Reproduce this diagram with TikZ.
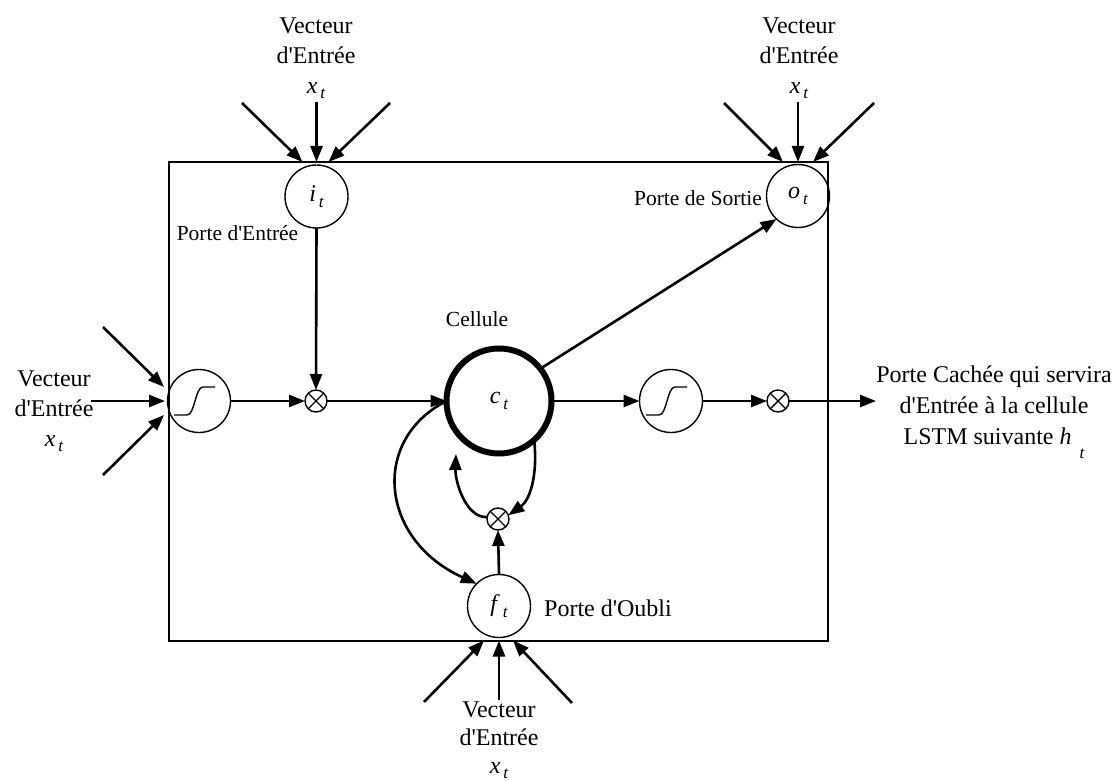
\documentclass[tikz,border=0pt]{standalone}
\usepackage{fontspec}
\setmainfont{Liberation Serif}
% family without TeX ligatures, so that ' stays a straight apostrophe
\newfontfamily\tnr{Liberation Serif}
\usetikzlibrary{arrows.meta}

% variable with a lowered italic subscript
\newcommand\vsym[2]{\textit{#1}\kern1.5pt\raisebox{-0.5ex}{\fontsize{8.5}{8.5}\selectfont\itshape #2}}
% sigmoid glyph drawn inside a gate
\newcommand\sigmoid[1]{\draw[line width=0.7pt] ([shift={(-25,14)}]#1.center) -- ++(13,0) .. controls +(8,0) and +(-8,0) .. ++(16,-28) -- ++(12,0);}

\begin{document}
\begin{tikzpicture}[x=0.5pt,y=-0.5pt,
  wire/.style={line width=1.3pt},
  arr/.style={wire,-{Triangle[length=8pt,width=6pt]}},
  gate/.style={circle,draw,line width=0.7pt,inner sep=0pt,outer sep=0pt,minimum size=31.5pt,font=\tnr\fontsize{12}{14}\selectfont},
  cellc/.style={circle,draw,line width=3pt,inner sep=0pt,outer sep=0pt,minimum size=52.5pt,font=\tnr\fontsize{12}{14}\selectfont},
  mult/.style={circle,draw,line width=0.7pt,inner sep=0pt,outer sep=0pt,minimum size=11pt,
    path picture={\draw[line width=0.7pt] (path picture bounding box.south west) -- (path picture bounding box.north east)
      (path picture bounding box.north west) -- (path picture bounding box.south east);}},
  big/.style={font=\tnr\fontsize{12}{15}\selectfont},
  small/.style={font=\tnr\fontsize{10.75}{13}\selectfont},
  block/.style={big,align=center,inner sep=0pt,anchor=north},
]
\useasboundingbox (0,0) rectangle (1114,781);

% cell frame
\node[draw,line width=1.3pt,minimum width=329.5pt,minimum height=239.5pt,inner sep=0pt,outer sep=0pt] (frame) at (498.5,401.5) {};

% gates and cell state
\node[gate] (sL) at (199,401) {};
\node[gate] (sR) at (671,401) {};
\node[gate] (it) at (316.5,196.5) {\vsym{i}{t}};
\node[gate] (ot) at (798,196) {\vsym{o}{t}};
\node[gate] (ft) at (499,606) {\vsym{f}{t}};
\node[cellc] (ct) at (499,401) {\raisebox{-2pt}{\vsym{c}{t}}};
\sigmoid{sL}
\sigmoid{sR}

% products
\node[mult] (oxL) at (316,401) {};
\node[mult] (oxR) at (778,401) {};
\node[mult] (oxB) at (498,519) {};

% free ends of the input and output arrows
\coordinate (aTL1) at (242,103);
\coordinate (aTL2) at (316.5,102);
\coordinate (aTL3) at (390,103);
\coordinate (aTR1) at (724,103);
\coordinate (aTR2) at (798,102);
\coordinate (aTR3) at (874,103);
\coordinate (aL1) at (103,327);
\coordinate (aL2) at (91,401);
\coordinate (aL3) at (103,475);
\coordinate (aB1) at (424,702);
\coordinate (aB2) at (499,700);
\coordinate (aB3) at (572,703);
\coordinate (hOut) at (876,401);

% inputs
\draw[arr] (aTL1) -- ([shift={(-14,-3)}]it.north);
\draw[arr] (aTL2) -- ([shift={(0,-3)}]it.north);
\draw[arr] (aTL3) -- ([shift={(12,-3)}]it.north);
\draw[arr] (aTR1) -- ([shift={(-15,-2.5)}]ot.north);
\draw[arr] (aTR2) -- ([shift={(0,-2.5)}]ot.north);
\draw[arr] (aTR3) -- ([shift={(15,-2.5)}]ot.north);
\draw[arr] (aL1) -- ([shift={(-3.5,-14)}]sL.west);
\draw[arr] (aL2) -- ([shift={(-2.5,0)}]sL.west);
\draw[arr] (aL3) -- ([shift={(-3.5,14)}]sL.west);
\draw[arr] (aB1) -- ([shift={(-15,3)}]ft.south);
\draw[arr] (aB2) -- ([shift={(0,3)}]ft.south);
\draw[arr] (aB3) -- ([shift={(14,3)}]ft.south);

% main data path
\draw[arr] (sL.east) -- (oxL.west);
\draw[arr] (it.south) -- (oxL.north);
\draw[arr] (oxL.east) -- (ct.west);
\draw[arr] (ct.east) -- (sR.west);
\draw[arr] (sR.east) -- (oxR.west);
\draw[arr] (oxR.east) -- (hOut);
\draw[arr] (ct.38) -- (ot.227);

% forget path and recurrence of the cell
\draw[arr] (ft.north) -- (oxB.south);
\draw[arr] (ct.-48) .. controls (538,475) and (530,500) .. (oxB.20);
\draw[arr] (oxB.170) .. controls (465,518) and (455,480) .. ([shift={(-43,53)}]ct.center);
\draw[arr] (ct.west) .. controls (370,440) and (380,540) .. (ft.135);

% labels
\node[block] (inTL) at (316,17) {Vecteur\\d'Entrée\\\vsym{x}{t}};
\node[block] (inTR) at (799,17) {Vecteur\\d'Entrée\\\vsym{x}{t}};
\node[block] (inL) at (54,370) {Vecteur\\d'Entrée\\\vsym{x}{t}};
\node[block,font=\tnr\fontsize{12}{14}\selectfont] (inB) at (499,701) {Vecteur\\d'Entrée\\\vsym{x}{t}};
\node[block,font=\tnr\fontsize{12}{15.5}\selectfont] (outR) at (994,365)
  {Porte Cachée qui servira\\d'Entrée à la cellule\\LSTM suivante \textit{h}\kern4pt\raisebox{-7pt}{\fontsize{8.5}{8.5}\selectfont\itshape t}};
\node[small] (pIn) at (237.5,233) {Porte d'Entrée};
\node[small] (pOut) at (698,198) {Porte de Sortie};
\node[small] (cellLbl) at (477,319) {Cellule};
\node[big] (pForget) at (608,608) {Porte d'Oubli};
\end{tikzpicture}
\end{document}
